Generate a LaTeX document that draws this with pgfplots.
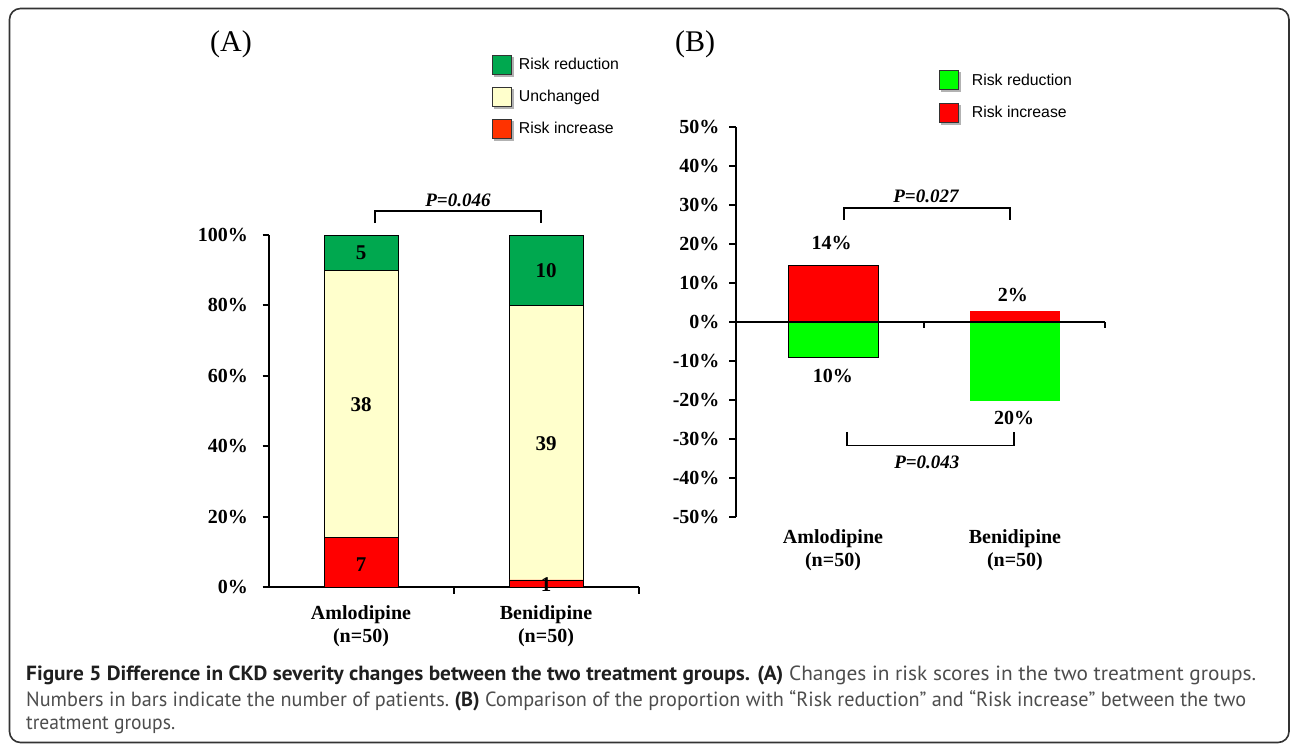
\documentclass[border=0pt]{standalone}
\usepackage{fontspec}
\setmainfont{Liberation Serif}
\newfontfamily\legfont{Liberation Sans}
\newfontfamily\capfont{PT Sans}
\usepackage{graphicx}
\usepackage{pgfplots}
\pgfplotsset{compat=1.18}

\definecolor{gA}{HTML}{00A84F}
\definecolor{yA}{HTML}{FFFFCC}
\definecolor{rA}{HTML}{FF0000}
\definecolor{rLeg}{HTML}{FF3300}
\definecolor{gB}{HTML}{00FF00}
\definecolor{framecol}{HTML}{333333}
\definecolor{capgray}{HTML}{4D4D4D}

% legend square with a small grey shadow, in a given colour
\pgfplotsset{sqleg/.style={legend image code/.code={
  \fill[black!30] (2pt,-11.5pt) rectangle (21pt,7.5pt);
  \draw[fill=#1, draw=black!80, line width=0.6pt] (0pt,-9.5pt) rectangle (19pt,9.5pt);}},
  geomA/.style={at={(268.5pt,-587pt)}, anchor=south west,
    scale only axis, width=370pt, height=352pt,
    xmin=-0.5, xmax=1.5, ymin=0, ymax=100, clip=false}}
\tikzset{numA/.style={font=\fontsize{21}{24}\selectfont\bfseries},
         numB/.style={font=\fontsize{20}{24}\selectfont\bfseries},
         pval/.style={font=\fontsize{19}{22}\selectfont\bfseries\itshape}}

% squeeze a caption line to a given width
\newsavebox\capbox
\newcommand\fitline[2]{\sbox\capbox{#2}\pgfmathsetmacro\sx{#1/\the\wd\capbox}\scalebox{\sx}[1]{\usebox\capbox}}

\begin{document}
\begin{tikzpicture}
\path[use as bounding box, fill=white] (0pt,0pt) rectangle (1290pt,-746pt);
\draw[framecol, line width=1.6pt, rounded corners=11pt] (9.5pt,-8.5pt) rectangle (1289pt,-742.5pt);

\node[anchor=base west, font=\fontsize{30}{36}\selectfont, inner sep=0pt] at (210pt,-52pt) {(A)};
\node[anchor=base west, font=\fontsize{30}{36}\selectfont, inner sep=0pt] at (675pt,-52pt) {(B)};

% ---------------- panel A
\begin{axis}[
  geomA,
  axis x line=bottom, axis y line=left,
  axis line style={-, line width=2pt},
  ybar stacked, bar width=74pt,
  xtick={0,1}, xtick style={draw=none},
  xticklabels={{Amlodipine\\(n=50)},{Benidipine\\(n=50)}},
  xticklabel style={align=center, font=\fontsize{20}{23}\selectfont\bfseries, yshift=-9pt},
  ytick={0,20,40,60,80,100},
  yticklabels={0\%,20\%,40\%,60\%,80\%,100\%},
  ytick style={line width=2pt, black},
  tick align=outside, major tick length=6pt,
  yticklabel style={font=\fontsize{20}{24}\selectfont\bfseries, xshift=-11pt},
  legend style={at={(0.596,1.517)}, anchor=north west, draw=none, fill=none,
    font=\legfont\fontsize{15.8}{18}\selectfont, row sep=10pt, column sep=3pt},
  legend cell align=left, reverse legend,
]
\addplot[fill=rA, draw=black, line width=0.8pt, sqleg=rLeg] coordinates {(0,14) (1,2)};
\addlegendentry{Risk increase}
\addplot[fill=yA, draw=black, line width=0.8pt, sqleg=yA] coordinates {(0,76) (1,78)};
\addlegendentry{Unchanged}
\addplot[fill=gA, draw=black, line width=0.8pt, sqleg=gA] coordinates {(0,10) (1,20)};
\addlegendentry{Risk reduction}

\draw[line width=2pt] (axis cs:0.5,0) -- ++(0pt,-7pt);
\draw[line width=2pt] (axis cs:1.5,0) -- ++(0pt,-7pt);
\end{axis}

% labels of panel A, in a hidden axis of the same size so they lie over the bars
\begin{axis}[geomA, hide axis]
\node[numA] at (axis cs:0,94.9) {5};
\node[numA] at (axis cs:0,51.7) {38};
\node[numA] at (axis cs:0,6.4) {7};
\node[numA] at (axis cs:1,89.8) {10};
\node[numA] at (axis cs:1,40.6) {39};
\node[numA] at (axis cs:1,0.6) {1};

\draw[line width=2.6pt] (axis cs:0.076,103.4) -- (axis cs:0.076,106.8) -- (axis cs:0.973,106.8) -- (axis cs:0.973,103.4);
\node[pval] at (axis cs:0.524,109.9) {P=0.046};
\end{axis}

% ---------------- panel B
\begin{axis}[
  at={(736pt,-517pt)}, anchor=south west,
  scale only axis, width=369pt, height=390pt,
  xmin=-0.533, xmax=1.495, ymin=-50, ymax=50,
  clip=false,
  axis x line=bottom, axis y line=left,
  axis line style={-, line width=2.6pt},
  x axis line style={opacity=0},
  xtick={0,1}, xtick style={draw=none},
  xticklabels={{Amlodipine\\(n=50)},{Benidipine\\(n=50)}},
  xticklabel style={align=center, font=\fontsize{20}{23}\selectfont\bfseries, yshift=-2pt},
  ytick={-50,-40,-30,-20,-10,0,10,20,30,40,50},
  yticklabels={-50\%,-40\%,-30\%,-20\%,-10\%,0\%,10\%,20\%,30\%,40\%,50\%},
  ytick style={line width=2.6pt, black},
  tick align=outside, major tick length=7pt,
  yticklabel style={font=\fontsize{20}{24}\selectfont\bfseries, xshift=-6pt},
  legend style={at={(0.542,1.151)}, anchor=north west, draw=none, fill=none,
    font=\legfont\fontsize{15.8}{18}\selectfont, row sep=11pt, column sep=9pt},
  legend cell align=left,
]
\addplot[ybar, bar width=90pt, bar shift=0pt, fill=gB, draw=black, line width=0.8pt, sqleg=gB] coordinates {(0,-9.2)};
\addlegendentry{Risk reduction}
\addplot[ybar, bar width=90pt, bar shift=0pt, fill=rA, draw=black, line width=0.8pt, sqleg=rA] coordinates {(0,14.4)};
\addlegendentry{Risk increase}
\addplot[ybar, bar width=90pt, bar shift=0pt, fill=rA, draw=none, forget plot] coordinates {(1,2.8)};
\addplot[ybar, bar width=90pt, bar shift=0pt, fill=gB, draw=none, forget plot] coordinates {(1,-20.2)};

\draw[line width=2pt] (axis cs:-0.533,0) -- (axis cs:1.495,0);
\draw[line width=2pt] (axis cs:0.5,0) -- ++(0pt,-6pt);
\draw[line width=2pt] (axis cs:1.495,0) -- ++(0pt,-6pt);

\node[numB] at (axis cs:-0.008,20.3) {14\%};
\node[numB] at (axis cs:0.989,6.9) {2\%};
\node[numB] at (axis cs:0,-13.8) {10\%};
\node[numB] at (axis cs:0.995,-24.6) {20\%};

\draw[line width=1.6pt] (axis cs:0.06,26.2) -- (axis cs:0.06,29.2) -- (axis cs:0.973,29.2) -- (axis cs:0.973,26.2);
\node[pval] at (axis cs:0.511,32.3) {P=0.027};
\draw[line width=1.6pt] (axis cs:0.077,-28.2) -- (axis cs:0.077,-31.7) -- (axis cs:0.995,-31.7) -- (axis cs:0.995,-28.2);
\node[pval] at (axis cs:0.516,-35.9) {P=0.043};
\end{axis}

% ---------------- caption
\node[anchor=base west, inner sep=0pt, font=\capfont\fontsize{20.5}{24}\selectfont] at (26pt,-680pt) {\fitline{1230}{{\bfseries\color{black!88}Figure 5 Difference in CKD severity changes between the two treatment groups. (A)}\ {\color{capgray}Changes in risk scores in the two treatment groups.}}};
\node[anchor=base west, inner sep=0pt, font=\capfont\fontsize{20.5}{24}\selectfont] at (26pt,-706pt) {\fitline{1220}{{\color{capgray}Numbers in bars indicate the number of patients.}\ {\bfseries\color{black!88}(B)}\ {\color{capgray}Comparison of the proportion with “Risk reduction” and “Risk increase” between the two}}};
\node[anchor=base west, inner sep=0pt, font=\capfont\fontsize{20.5}{24}\selectfont] at (26pt,-729pt) {\fitline{149}{\color{capgray}treatment groups.}};
\end{tikzpicture}
\end{document}
